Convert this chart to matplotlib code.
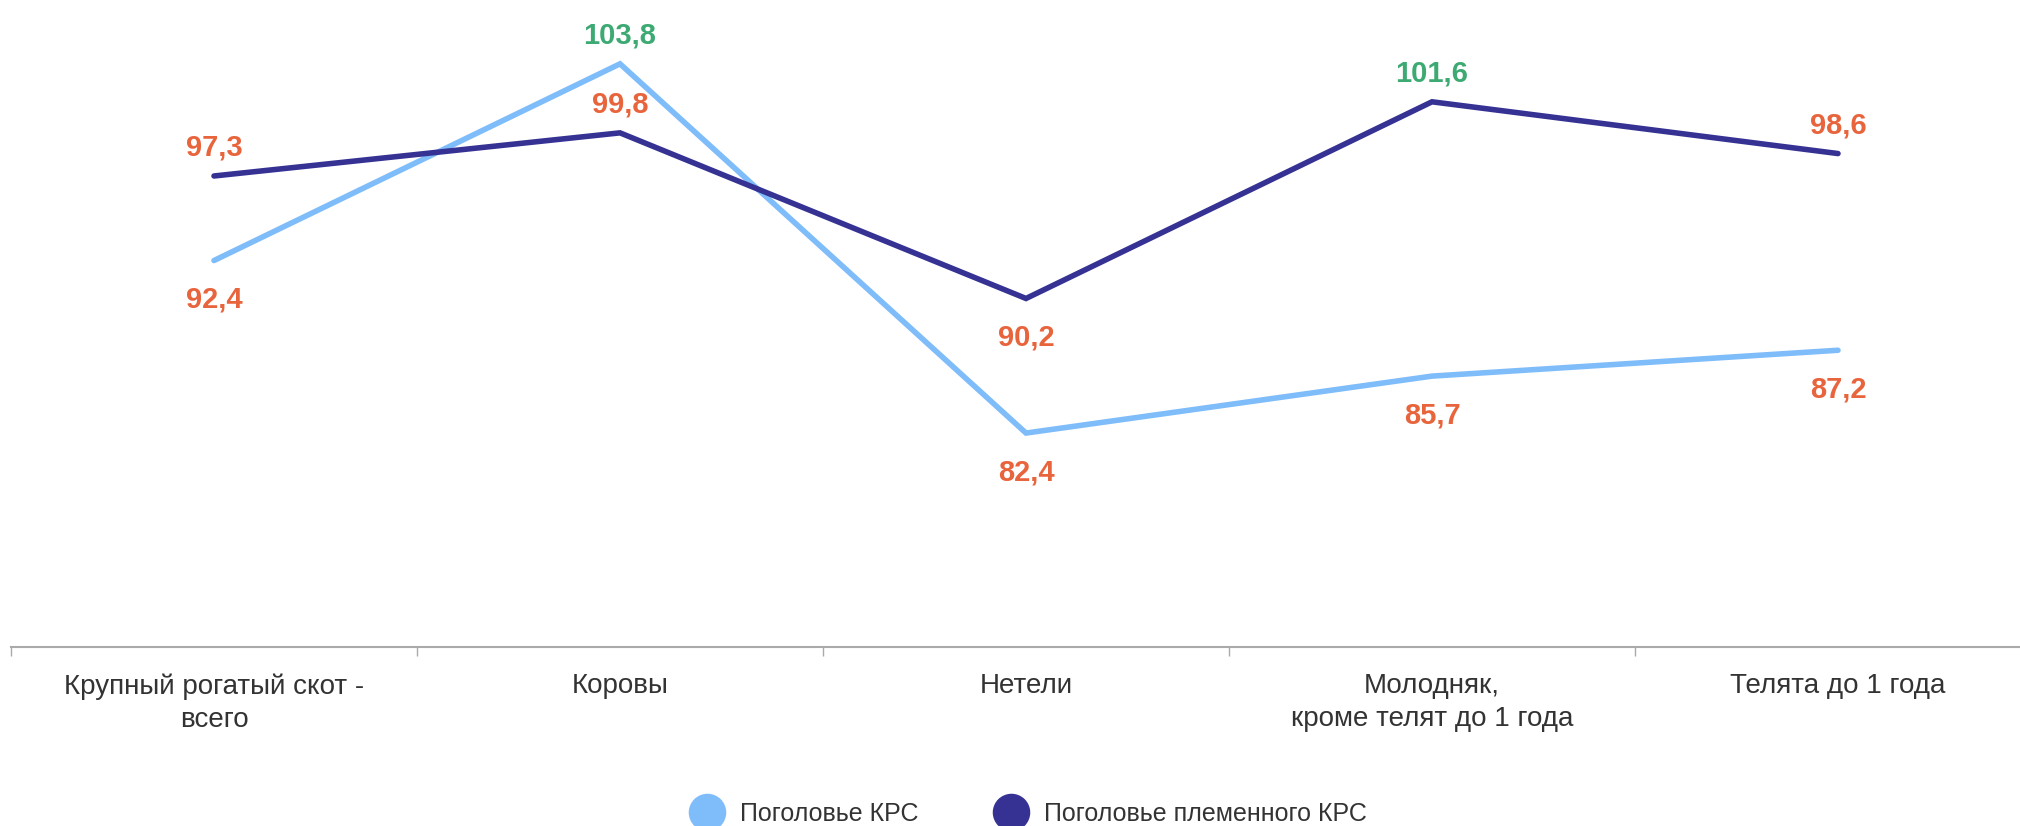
import matplotlib.pyplot as plt
from matplotlib.lines import Line2D

categories = ['Крупный рогатый скот -\nвсего', 'Коровы', 'Нетели',
              'Молодняк,\nкроме телят до 1 года', 'Телята до 1 года']
herd_total = [92.4, 103.8, 82.4, 85.7, 87.2]
herd_breeding = [97.3, 99.8, 90.2, 101.6, 98.6]
series_names = ['Поголовье КРС', 'Поголовье племенного КРС']

# label above (True) or below (False) the point
total_above = [False, True, False, False, False]
breeding_above = [True, True, False, True, True]

c_light = '#7FBCFA'
c_dark = '#363293'
c_up = '#3DAA73'
c_down = '#E8643C'

plt.rcParams['font.family'] = ['Liberation Sans', 'DejaVu Sans']

fig = plt.figure(figsize=(20.2, 8.26), dpi=100)
ax = fig.add_axes([11 / 2020, 179 / 826, 2030 / 2020, 647 / 826])

x = list(range(len(categories)))
ax.plot(x, herd_total, color=c_light, lw=4, solid_capstyle='round', solid_joinstyle='miter')
ax.plot(x, herd_breeding, color=c_dark, lw=4, solid_capstyle='round', solid_joinstyle='miter')

ax.set_xlim(-0.5, len(categories) - 0.5)
ax.set_ylim(70, 107.5)


def put_labels(vals, above):
    for i, (v, a) in enumerate(zip(vals, above)):
        col = c_up if v > 100 else c_down
        dy = 28 if a else -39
        ax.annotate(f'{v:.1f}'.replace('.', ','), (i, v), xytext=(0, dy * 0.72),
                    textcoords='offset points', ha='center', va='center',
                    fontsize=21, fontweight='bold', color=col)


put_labels(herd_total, total_above)
put_labels(herd_breeding, breeding_above)

for s in ['top', 'right', 'left']:
    ax.spines[s].set_visible(False)
ax.spines['bottom'].set_color('#AAAAAA')
ax.spines['bottom'].set_linewidth(1.5)
ax.set_yticks([])

ax.set_xticks([i - 0.5 for i in range(len(categories) + 1)])
ax.set_xticklabels([])
ax.tick_params(axis='x', which='major', length=6.5, width=1, color='#AAAAAA', direction='out')
ax.set_xticks(x, minor=True)
ax.set_xticklabels(categories, minor=True, fontsize=20, color='#333333', linespacing=1.35)
ax.tick_params(axis='x', which='minor', length=0, pad=19)

handles = [Line2D([], [], ls='none', marker='o', markersize=26, color=c_light),
           Line2D([], [], ls='none', marker='o', markersize=26, color=c_dark)]
fig.legend(handles, series_names, loc='center', bbox_to_anchor=(0.509, 0.015), ncol=2,
           frameon=False, fontsize=18, handlelength=1.4, handletextpad=0.62,
           columnspacing=3.0, borderpad=0, labelcolor='#333333')

plt.savefig('out.png', dpi=100)
